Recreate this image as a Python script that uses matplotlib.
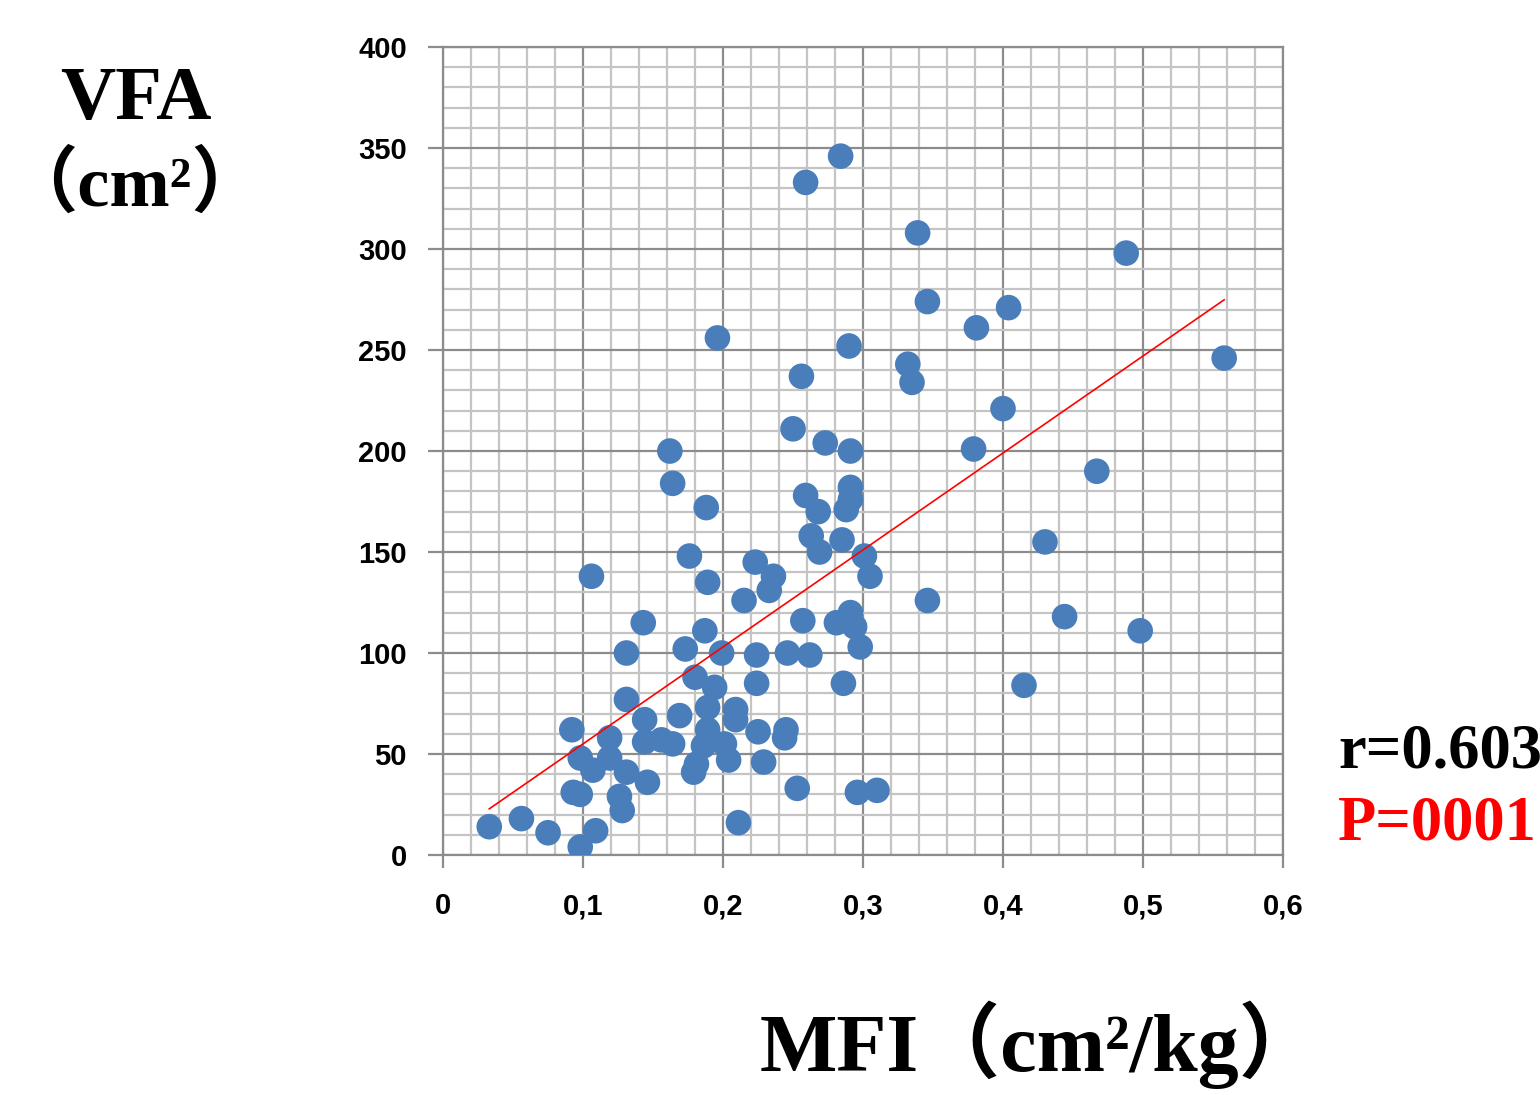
import matplotlib
matplotlib.use("Agg")
import matplotlib.pyplot as plt
from matplotlib.ticker import MultipleLocator
import numpy as np

# MFI (cm2/kg) vs VFA (cm2)
mfi = [0.033, 0.056, 0.075, 0.098, 0.109, 0.092, 0.098, 0.093, 0.098, 0.106,
       0.107, 0.119, 0.119, 0.126, 0.128, 0.131, 0.131, 0.131, 0.143, 0.144,
       0.144, 0.146, 0.156, 0.164, 0.162, 0.164, 0.169, 0.173, 0.176, 0.180,
       0.179, 0.181, 0.188, 0.189, 0.187, 0.189, 0.189, 0.186, 0.194, 0.196,
       0.199, 0.201, 0.204, 0.209, 0.209, 0.211, 0.215, 0.223, 0.236, 0.233,
       0.224, 0.224, 0.225, 0.229, 0.245, 0.244, 0.246, 0.250, 0.253, 0.256,
       0.257, 0.259, 0.259, 0.263, 0.262, 0.268, 0.269, 0.273, 0.281, 0.285,
       0.284, 0.286, 0.288, 0.290, 0.291, 0.291, 0.291, 0.291, 0.294, 0.298,
       0.296, 0.301, 0.305, 0.310, 0.332, 0.335, 0.339, 0.346, 0.346, 0.379,
       0.381, 0.400, 0.404, 0.415, 0.430, 0.444, 0.467, 0.488, 0.498, 0.558]
vfa = [14, 18, 11, 4, 12, 62, 48, 31, 30, 138,
       42, 58, 48, 29, 22, 77, 100, 41, 115, 67,
       56, 36, 57, 55, 200, 184, 69, 102, 148, 88,
       41, 45, 172, 135, 111, 73, 62, 54, 83, 256,
       100, 55, 47, 72, 67, 16, 126, 145, 138, 131,
       99, 85, 61, 46, 62, 58, 100, 211, 33, 237,
       116, 178, 333, 158, 99, 170, 150, 204, 115, 156,
       346, 85, 171, 252, 200, 182, 176, 120, 113, 103,
       31, 148, 138, 32, 243, 234, 308, 274, 126, 201,
       261, 221, 271, 84, 155, 118, 190, 298, 111, 246]

x_ticks = [0, 0.1, 0.2, 0.3, 0.4, 0.5, 0.6]
x_labels = ["0", "0,1", "0,2", "0,3", "0,4", "0,5", "0,6"]
y_ticks = [0, 50, 100, 150, 200, 250, 300, 350, 400]

fig = plt.figure(figsize=(15.4, 10.95), dpi=100)
ax = fig.add_axes([0.2877, 0.2192, 0.5454, 0.7378])

# grid: major every 0.1 / 50, minor every 0.02 / 10
ax.xaxis.set_minor_locator(MultipleLocator(0.02))
ax.yaxis.set_minor_locator(MultipleLocator(10))
ax.grid(which="minor", color="#c4c4c4", linewidth=1.6, zorder=0)
ax.grid(which="major", color="#8c8c8c", linewidth=1.6, zorder=0)
ax.set_axisbelow(True)

ax.scatter(mfi, vfa, s=340, color="#4a7ebb", edgecolors="none", zorder=3)

# linear trend line
coef = np.polyfit(mfi, vfa, 1)
xs = np.array([min(mfi), max(mfi)])
ax.plot(xs, np.polyval(coef, xs), color="red", linewidth=1.2, zorder=4)

ax.set_xlim(0, 0.6)
ax.set_ylim(0, 400)
ax.set_xticks(x_ticks)
ax.set_xticklabels(x_labels)
ax.set_yticks(y_ticks)
for lab in ax.get_xticklabels() + ax.get_yticklabels():
    lab.set_fontfamily("Liberation Sans")
    lab.set_fontweight("bold")
    lab.set_fontsize(21)
ax.tick_params(which="major", direction="out", width=1.6, color="#8c8c8c")
ax.tick_params(axis="x", which="major", length=9, pad=18)
ax.tick_params(axis="y", which="major", length=11, pad=15)
ax.tick_params(which="minor", length=0)
for side in ["left", "bottom", "top", "right"]:
    ax.spines[side].set_color("#8c8c8c")
    ax.spines[side].set_linewidth(1.6)

serif_cjk = ["Liberation Serif", "Noto Sans CJK JP"]
fig.text(136 / 1540, 1 - 100 / 1095, "VFA", family=serif_cjk, fontweight="bold",
         fontsize=55, ha="center", va="center")
fig.text(134 / 1540, 1 - 186 / 1095, "（cm²）", family=serif_cjk, fontweight="bold",
         fontsize=52, ha="center", va="center")
fig.text(1040 / 1540, 1 - 1045 / 1095, "MFI（cm²/kg）", family=serif_cjk, fontweight="bold",
         fontsize=59, ha="center", va="center")
fig.text(1338 / 1540, 1 - 752 / 1095, "r=0.603", family=serif_cjk, fontweight="bold",
         fontsize=45, ha="left", va="center", color="black")
fig.text(1338 / 1540, 1 - 825 / 1095, "P=0001", family=serif_cjk, fontweight="bold",
         fontsize=45, ha="left", va="center", color="red")

fig.savefig("out.png", dpi=100)
